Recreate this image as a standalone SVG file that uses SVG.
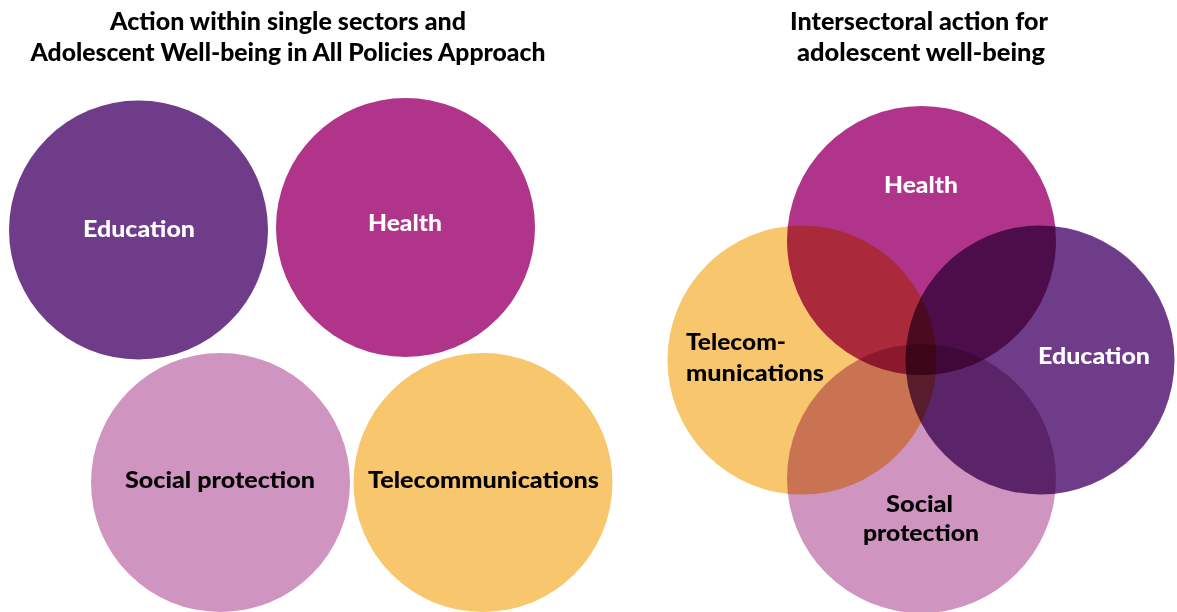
<svg xmlns="http://www.w3.org/2000/svg" width="1177" height="612" viewBox="0 0 1177 612">
<style>
.t{font-family:Lato,"Liberation Sans",sans-serif;font-weight:900;font-size:24px;fill:#000;text-anchor:middle}
.l{font-family:Lato,"Liberation Sans",sans-serif;font-weight:900;font-size:23px}
.w{fill:#fff}
.k{fill:#000}
.m{mix-blend-mode:multiply}
.edu{fill:#6f3c8a}
.hea{fill:#b0348a}
.soc{fill:#d094c0}
.tel{fill:#f7c66d}
</style>
<rect width="1177" height="612" fill="#fff"/>
<g id="titles">
<text class="t" x="288" y="30" textLength="356" lengthAdjust="spacingAndGlyphs">Action within single sectors and</text>
<text class="t" x="288" y="61" textLength="515" lengthAdjust="spacingAndGlyphs">Adolescent Well-being in All Policies Approach</text>
<text class="t" x="919" y="30" textLength="258" lengthAdjust="spacingAndGlyphs">Intersectoral action for</text>
<text class="t" x="921" y="61" textLength="248" lengthAdjust="spacingAndGlyphs">adolescent well-being</text>
</g>
<g id="left-education"><circle class="edu" cx="138.5" cy="230" r="129.5"/><text class="l w" x="139" y="237" text-anchor="middle" textLength="112" lengthAdjust="spacingAndGlyphs">Education</text></g>
<g id="left-health"><circle class="hea" cx="405.5" cy="227.5" r="129.5"/><text class="l w" x="405" y="231" text-anchor="middle" textLength="74" lengthAdjust="spacingAndGlyphs">Health</text></g>
<g id="left-social"><circle class="soc" cx="220.5" cy="482.5" r="129.5"/><text class="l k" x="220" y="488" text-anchor="middle" textLength="190" lengthAdjust="spacingAndGlyphs">Social protection</text></g>
<g id="left-telecom"><circle class="tel" cx="483" cy="482.5" r="129.5"/><text class="l k" x="483.5" y="488" text-anchor="middle" textLength="231" lengthAdjust="spacingAndGlyphs">Telecommunications</text></g>
<g id="right-health"><circle class="hea m" cx="921.5" cy="240.5" r="134.5"/></g>
<g id="right-telecom"><circle class="tel m" cx="802" cy="360" r="134.5"/></g>
<g id="right-education"><circle class="edu m" cx="1040" cy="360" r="134.5"/></g>
<g id="right-social"><circle class="soc m" cx="921.5" cy="478.5" r="134.5"/></g>
<g id="right-labels">
<text class="l w" x="921" y="193" text-anchor="middle" textLength="74" lengthAdjust="spacingAndGlyphs">Health</text>
<text class="l k" x="686" y="350" textLength="100" lengthAdjust="spacingAndGlyphs">Telecom-</text>
<text class="l k" x="686" y="381" textLength="138" lengthAdjust="spacingAndGlyphs">munications</text>
<text class="l w" x="1094" y="364" text-anchor="middle" textLength="112" lengthAdjust="spacingAndGlyphs">Education</text>
<text class="l k" x="919.5" y="512" text-anchor="middle" textLength="67" lengthAdjust="spacingAndGlyphs">Social</text>
<text class="l k" x="921" y="541" text-anchor="middle" textLength="116" lengthAdjust="spacingAndGlyphs">protection</text>
</g>
</svg>
